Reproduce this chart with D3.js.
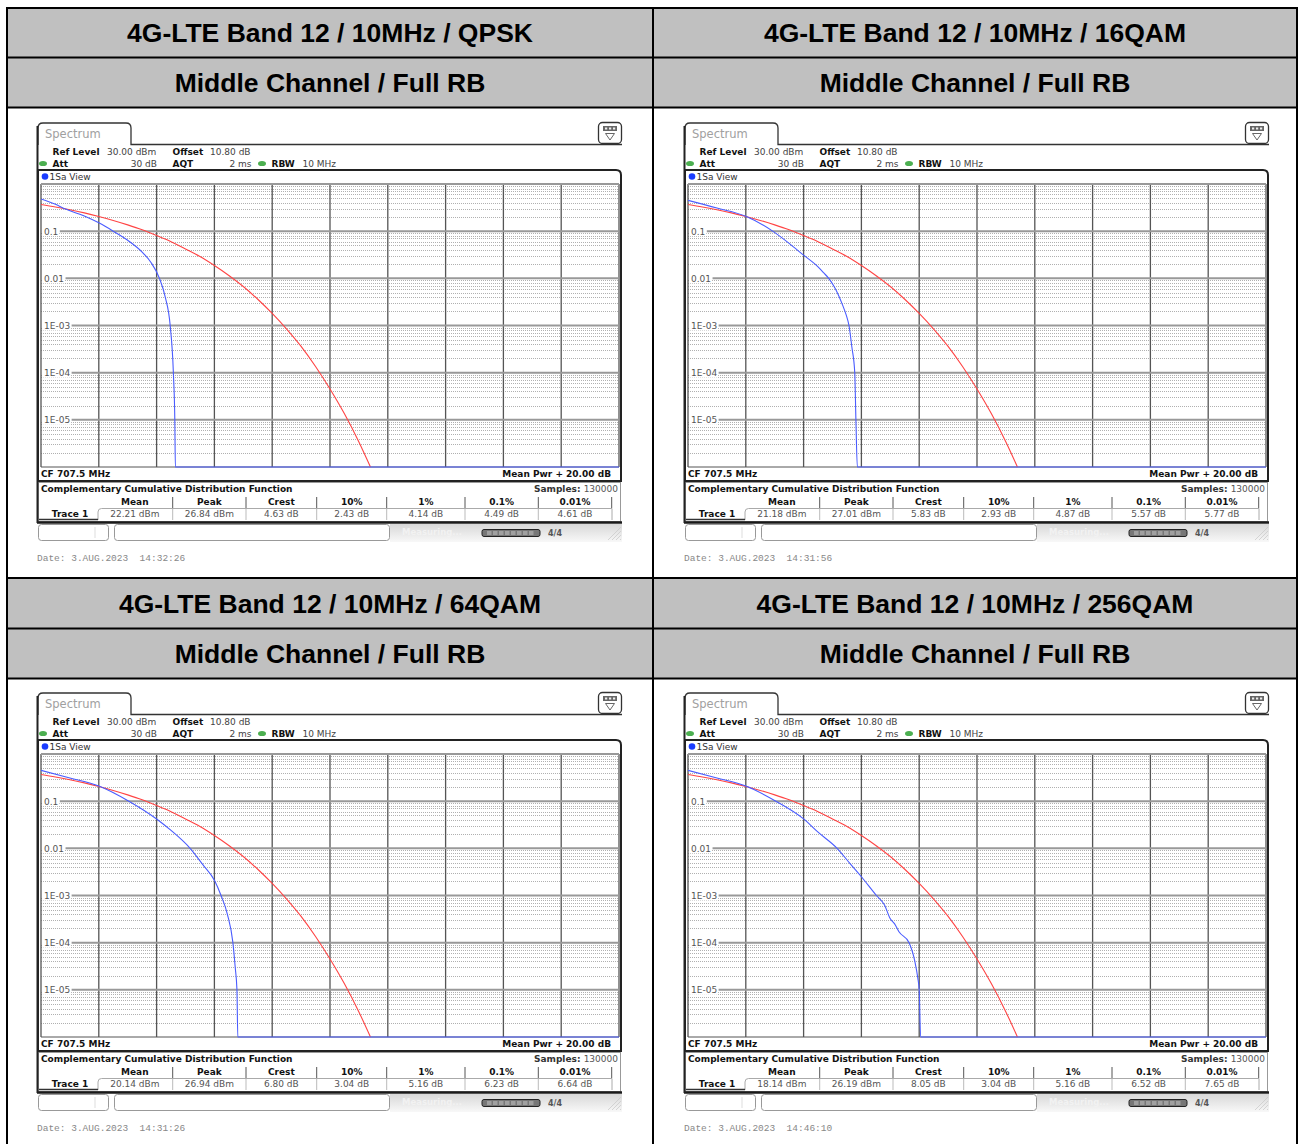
<!DOCTYPE html>
<html><head><meta charset="utf-8">
<script src="https://cdn.jsdelivr.net/npm/d3@7"></script>
<style>body{margin:0;background:#fff;} svg{display:block;}</style>
</head><body>
<svg id="c" width="1304" height="1144"></svg>
<script>
// ---------- data ----------
const titles = ["4G-LTE Band 12 / 10MHz / QPSK", "4G-LTE Band 12 / 10MHz / 16QAM",
                "4G-LTE Band 12 / 10MHz / 64QAM", "4G-LTE Band 12 / 10MHz / 256QAM"];
const subtitles = ["Middle Channel / Full RB", "Middle Channel / Full RB",
                   "Middle Channel / Full RB", "Middle Channel / Full RB"];
const dates = ["Date: 3.AUG.2023  14:32:26", "Date: 3.AUG.2023  14:31:56",
               "Date: 3.AUG.2023  14:31:26", "Date: 3.AUG.2023  14:46:10"];
const xTicks = [0, 2, 4, 6, 8, 10, 12, 14, 16, 18, 20];
const yTickValues = [0.1, 0.01, 1e-3, 1e-4, 1e-5];
const yTickLabels = ["0.1", "0.01", "1E-03", "1E-04", "1E-05"];
const statHeaders = ["Mean", "Peak", "Crest", "10%", "1%", "0.1%", "0.01%"];
const qpskStats  = ["22.21 dBm", "26.84 dBm", "4.63 dB", "2.43 dB", "4.14 dB", "4.49 dB", "4.61 dB"];
const qam16Stats = ["21.18 dBm", "27.01 dBm", "5.83 dB", "2.93 dB", "4.87 dB", "5.57 dB", "5.77 dB"];
const qam64Stats = ["20.14 dBm", "26.94 dBm", "6.80 dB", "3.04 dB", "5.16 dB", "6.23 dB", "6.64 dB"];
const qam256Stats= ["18.14 dBm", "26.19 dBm", "8.05 dB", "3.04 dB", "5.16 dB", "6.52 dB", "7.65 dB"];
const sampleCount = "130000";
const cfLabel = "CF 707.5 MHz";
const meanPwrLabel = "Mean Pwr + 20.00 dB";

// reference (red) curve: dB above mean vs probability
const refDb = [0, 0.5, 1, 1.5, 2, 2.5, 3, 3.5, 4, 4.5, 5, 5.5, 6, 6.5, 7, 7.5, 8, 8.5, 9, 9.5, 10, 10.5, 11, 11.4];
const refP  = [0.368, 0.326, 0.284, 0.244, 0.205, 0.169, 0.136, 0.107, 0.081, 0.060, 0.042, 0.029, 0.0187, 0.0115,
               0.0067, 0.0036, 0.0018, 0.00084, 0.00036, 0.000135, 0.000045, 0.0000134, 0.0000034, 0.000001];

// measured (blue) traces
const qpskDb = [0, 0.5, 0.87, 1.5, 2.0, 2.5, 3.0, 3.5, 3.8, 4.1, 4.3, 4.47, 4.58, 4.63, 4.65, 20];
const qpskP  = [0.48, 0.37, 0.29, 0.21, 0.15, 0.1, 0.064, 0.036, 0.022, 0.01, 0.004, 0.001, 0.0001, 0.00001, 0.000001, 0.000001];
const qam16Db = [0, 1, 2, 2.93, 3.5, 4, 4.5, 4.7, 4.87, 5.05, 5.2, 5.35, 5.47, 5.57, 5.67, 5.77, 5.81, 5.86, 20];
const qam16P  = [0.45, 0.31, 0.207, 0.1, 0.055, 0.031, 0.0175, 0.013, 0.01, 0.0068, 0.0045, 0.0027, 0.0017, 0.001, 0.00035, 0.0001, 0.00001, 0.000001, 0.000001];
const qam64Db = [0, 1, 2, 3.04, 4, 4.5, 5.16, 5.6, 6.0, 6.23, 6.45, 6.64, 6.72, 6.78, 6.81, 20];
const qam64P  = [0.45, 0.31, 0.21, 0.1, 0.042, 0.024, 0.01, 0.0045, 0.0021, 0.001, 0.0004, 0.0001, 0.00003, 0.00001, 0.000001, 0.000001];
const qam256Db = [0, 1, 2, 3.04, 4, 4.5, 5.16, 5.6, 6.0, 6.52, 6.8, 7.0, 7.15, 7.3, 7.65, 7.85, 7.95, 8.0, 8.05, 20];
const qam256P  = [0.45, 0.31, 0.21, 0.1, 0.042, 0.022, 0.01, 0.0048, 0.0025, 0.001, 0.00063, 0.00032, 0.00025, 0.00017, 0.0001, 0.00004, 0.000018, 0.00001, 0.000001, 0.000001];

// ---------- drawing ----------
const svg = d3.select("#c");
const SANS = "'DejaVu Sans', Verdana, sans-serif";
const HEAD = "'Liberation Sans', Arial, sans-serif";

// table: header cells
const colX = [7, 653, 1297];
const rowY = [8, 57.5, 107.5, 578, 628.5, 678.5, 1144];
const headerRows = [[0, titles.slice(0, 2)], [1, subtitles.slice(0, 2)], [3, titles.slice(2, 4)], [4, subtitles.slice(2, 4)]];
headerRows.forEach(([ri, texts]) => {
  texts.forEach((t, ci) => {
    svg.append("rect").attr("x", colX[ci]).attr("y", rowY[ri])
      .attr("width", colX[ci + 1] - colX[ci]).attr("height", rowY[ri + 1] - rowY[ri]).attr("fill", "#c0c0c0");
    svg.append("text").attr("x", (colX[ci] + colX[ci + 1]) / 2).attr("y", (rowY[ri] + rowY[ri + 1]) / 2 + 9.5)
      .attr("text-anchor", "middle").attr("font-family", HEAD).attr("font-weight", "bold")
      .attr("font-size", 26.5).attr("fill", "#000").text(t);
  });
});
rowY.slice(0, 6).forEach(y => svg.append("line").attr("x1", 6).attr("x2", 1298).attr("y1", y).attr("y2", y)
  .attr("stroke", "#000").attr("stroke-width", 2));
colX.forEach(x => svg.append("line").attr("x1", x).attr("x2", x).attr("y1", 7).attr("y2", 1144)
  .attr("stroke", "#000").attr("stroke-width", 2));

const x = d3.scaleLinear().domain([0, 20]).range([41, 619]);
const y = d3.scaleLog().domain([1, 1e-6]).range([184, 467]);

const panels = [
  {dx: 0, dy: 0, date: dates[0], db: qpskDb, p: qpskP, stats: qpskStats},
  {dx: 647, dy: 0, date: dates[1], db: qam16Db, p: qam16P, stats: qam16Stats},
  {dx: 0, dy: 570, date: dates[2], db: qam64Db, p: qam64P, stats: qam64Stats},
  {dx: 647, dy: 570, date: dates[3], db: qam256Db, p: qam256P, stats: qam256Stats}
];

const defs = svg.append("defs");
const grad = defs.append("linearGradient").attr("id", "sb").attr("x1", 0).attr("y1", 0).attr("x2", 0).attr("y2", 1);
grad.append("stop").attr("offset", "0%").attr("stop-color", "#d8d8d8");
grad.append("stop").attr("offset", "100%").attr("stop-color", "#f8f8f8");

panels.forEach((P, pi) => {
  const g = svg.append("g").attr("transform", `translate(${P.dx},${P.dy})`);
  const cid = "clip" + pi;
  defs.append("clipPath").attr("id", cid).append("rect").attr("x", 41).attr("y", 184).attr("width", 578).attr("height", 284);

  // tab + outline
  g.append("path").attr("d", "M38,145 V128 Q38,123 43,123 H126 Q131,123 131,128 V144.5 H622")
    .attr("fill", "none").attr("stroke", "#333").attr("stroke-width", 1.3);
  g.append("text").attr("x", 45).attr("y", 138).attr("font-family", SANS).attr("font-size", 11.5)
    .attr("fill", "#a0a0a0").text("Spectrum");
  // icon
  g.append("rect").attr("x", 598.5).attr("y", 122.5).attr("width", 23).attr("height", 21).attr("rx", 4)
    .attr("fill", "#fff").attr("stroke", "#333").attr("stroke-width", 1.3);
  g.append("rect").attr("x", 603).attr("y", 126).attr("width", 14).attr("height", 5).attr("fill", "#666");
  [605, 609, 613].forEach(ix => g.append("rect").attr("x", ix).attr("y", 127.5).attr("width", 2.2).attr("height", 2).attr("fill", "#eee"));
  g.append("path").attr("d", "M605.5,133.5 L614.5,133.5 L610,140 Z").attr("fill", "none").attr("stroke", "#666").attr("stroke-width", 1);

  // parameter rows
  const t = (xx, yy, s, opt = {}) => g.append("text").attr("x", xx).attr("y", yy).attr("font-family", SANS)
    .attr("font-size", opt.size || 9).attr("font-weight", opt.bold ? "bold" : "normal")
    .attr("fill", opt.fill || (opt.bold ? "#111" : "#444")).attr("text-anchor", opt.anchor || "start")
    .style("white-space", "pre").text(s);
  t(52.5, 154.5, "Ref Level", {bold: true});
  t(107, 154.5, "30.00 dBm");
  t(172.5, 154.5, "Offset", {bold: true});
  t(210, 154.5, "10.80 dB");
  t(52.5, 166.5, "Att", {bold: true});
  t(157, 166.5, "30 dB", {anchor: "end"});
  t(172.5, 166.5, "AQT", {bold: true});
  t(251.5, 166.5, "2 ms", {anchor: "end"});
  t(271.5, 166.5, "RBW", {bold: true});
  t(302.5, 166.5, "10 MHz");
  [[43, 163.5], [262, 163.5]].forEach(([cx, cy]) => g.append("ellipse").attr("cx", cx).attr("cy", cy)
    .attr("rx", 4).attr("ry", 2.6).attr("fill", "#4caf50"));

  // plot frame
  g.append("path").attr("d", "M38,170 H616 Q621,170 621,175 V481 H38 Z")
    .attr("fill", "#fff").attr("stroke", "#222").attr("stroke-width", 2);
  g.append("circle").attr("cx", 45).attr("cy", 176.5).attr("r", 3.3).attr("fill", "#1a3cff");
  t(49.5, 180, "1Sa View", {fill: "#333"});

  // grid
  const grid = g.append("g");
  const minor = y.ticks().filter(v => Math.abs(Math.log10(v) - Math.round(Math.log10(v))) > 1e-6);
  grid.selectAll("line.minor").data(minor).join("line").attr("class", "minor")
    .attr("x1", 41).attr("x2", 619).attr("y1", d => Math.round(y(d)) + 0.5).attr("y2", d => Math.round(y(d)) + 0.5)
    .attr("stroke", "#b0b0b0").attr("stroke-width", 1).attr("stroke-dasharray", "1,1");
  grid.selectAll("line.vmaj").data(xTicks).join("line").attr("class", "vmaj")
    .attr("x1", d => x(d)).attr("x2", d => x(d)).attr("y1", 184).attr("y2", 467)
    .attr("stroke", "#555").attr("stroke-width", 1.3);
  grid.append("line").attr("x1", 41).attr("x2", 619).attr("y1", y(1)).attr("y2", y(1))
    .attr("stroke", "#999").attr("stroke-width", 2);
  grid.append("line").attr("x1", 41).attr("x2", 619).attr("y1", y(1e-6)).attr("y2", y(1e-6))
    .attr("stroke", "#555").attr("stroke-width", 1);
  yTickValues.forEach((v, i) => {
    const lab = t(44, y(v) + 3.5, yTickLabels[i], {fill: "#555"});
    const w = lab.node().getComputedTextLength();
    grid.append("rect").attr("x", 42).attr("y", y(v) - 5).attr("width", w + 3).attr("height", 10).attr("fill", "#fff");
    grid.append("line").attr("x1", 44 + w + 1.5).attr("x2", 619).attr("y1", y(v)).attr("y2", y(v))
      .attr("stroke", "#999").attr("stroke-width", 2);
    lab.raise();
  });

  // curves
  const line = d3.line().x(d => x(d[0])).y(d => y(d[1])).curve(d3.curveMonotoneX);
  const refData = refDb.map((d, i) => [d, refP[i]]);
  const measData = P.db.map((d, i) => [d, P.p[i]]);
  const cg = g.append("g").attr("clip-path", `url(#${cid})`);
  cg.append("path").attr("d", line(refData)).attr("fill", "none").attr("stroke", "#ff4444").attr("stroke-width", 1.1);
  cg.append("path").attr("d", line(measData)).attr("fill", "none").attr("stroke", "#4a5cff").attr("stroke-width", 1.1);

  // footer of plot
  t(41, 477, cfLabel, {bold: true});
  t(611, 477, meanPwrLabel, {bold: true, anchor: "end"});

  // CCDF table
  g.append("rect").attr("x", 38.5).attr("y", 482.5).attr("width", 582).attr("height", 39)
    .attr("fill", "#fff").attr("stroke", "#999").attr("stroke-width", 1);
  t(41, 492, "Complementary Cumulative Distribution Function", {bold: true});
  const smp = g.append("text").attr("x", 618).attr("y", 492).attr("text-anchor", "end")
    .attr("font-family", SANS).attr("font-size", 9);
  smp.append("tspan").attr("font-weight", "bold").attr("fill", "#333").text("Samples: ");
  smp.append("tspan").attr("fill", "#555").text(sampleCount);
  const edges = [97, 172.7, 246, 316.7, 386.7, 465, 538.3, 611.7];
  statHeaders.forEach((h, i) => {
    const cx = (edges[i] + edges[i + 1]) / 2;
    t(cx, 505, h, {bold: true, anchor: "middle"});
    t(cx, 517, P.stats[i], {anchor: "middle", fill: "#555"});
    g.append("line").attr("x1", edges[i + 1]).attr("x2", edges[i + 1]).attr("y1", 497).attr("y2", 508)
      .attr("stroke", "#555").attr("stroke-width", 1);
    if (i < statHeaders.length - 1)
      g.append("line").attr("x1", edges[i + 1]).attr("x2", edges[i + 1]).attr("y1", 509).attr("y2", 520)
        .attr("stroke", "#bbb").attr("stroke-width", 1);
  });
  g.append("path").attr("d", "M98,520 V512 Q98,508.5 101.5,508.5 H612 V520")
    .attr("fill", "none").attr("stroke", "#aaa").attr("stroke-width", 1);
  g.append("line").attr("x1", 39).attr("x2", 98).attr("y1", 519.5).attr("y2", 519.5).attr("stroke", "#333").attr("stroke-width", 1.3);
  t(70, 517, "Trace 1", {bold: true, anchor: "middle"});
  g.append("line").attr("x1", 37).attr("x2", 622).attr("y1", 522.5).attr("y2", 522.5).attr("stroke", "#1a1a1a").attr("stroke-width", 2.5);
  // left thick edge
  g.append("line").attr("x1", 37.5).attr("x2", 37.5).attr("y1", 126).attr("y2", 523).attr("stroke", "#222").attr("stroke-width", 2);

  // status bar
  g.append("rect").attr("x", 390).attr("y", 524).attr("width", 232).attr("height", 18).attr("fill", "url(#sb)");
  g.append("rect").attr("x", 38.5).attr("y", 524.5).attr("width", 70).attr("height", 16).attr("rx", 3)
    .attr("fill", "#fff").attr("stroke", "#999");
  g.append("line").attr("x1", 95).attr("x2", 95).attr("y1", 527).attr("y2", 538).attr("stroke", "#ddd");
  g.append("rect").attr("x", 114.5).attr("y", 524.5).attr("width", 275).attr("height", 16).attr("rx", 3)
    .attr("fill", "#fff").attr("stroke", "#999");
  t(402, 535, "Measuring...", {bold: true, fill: "#f2f2f2", size: 8.5});
  g.append("rect").attr("x", 482).attr("y", 529.5).attr("width", 58).attr("height", 7).attr("rx", 2)
    .attr("fill", "#777").attr("stroke", "#222").attr("stroke-width", 1);
  d3.range(8).forEach(k => g.append("rect").attr("x", 487 + k * 6).attr("y", 531).attr("width", 4.5).attr("height", 4)
    .attr("fill", "#a0a0a0"));
  t(548, 536, "4/4", {bold: true, fill: "#555", size: 8});
  d3.range(4).forEach(k => g.append("line").attr("x1", 608 + k * 4).attr("y1", 540).attr("x2", 621).attr("y2", 527 + k * 4)
    .attr("stroke", "#ccc").attr("stroke-width", 0.8));

  // date
  g.append("text").attr("x", 37).attr("y", 560.5).attr("font-family", "'Liberation Mono', 'Courier New', monospace")
    .attr("font-size", 9.5).attr("fill", "#888").style("white-space", "pre").text(P.date);
});
</script>
</body></html>
